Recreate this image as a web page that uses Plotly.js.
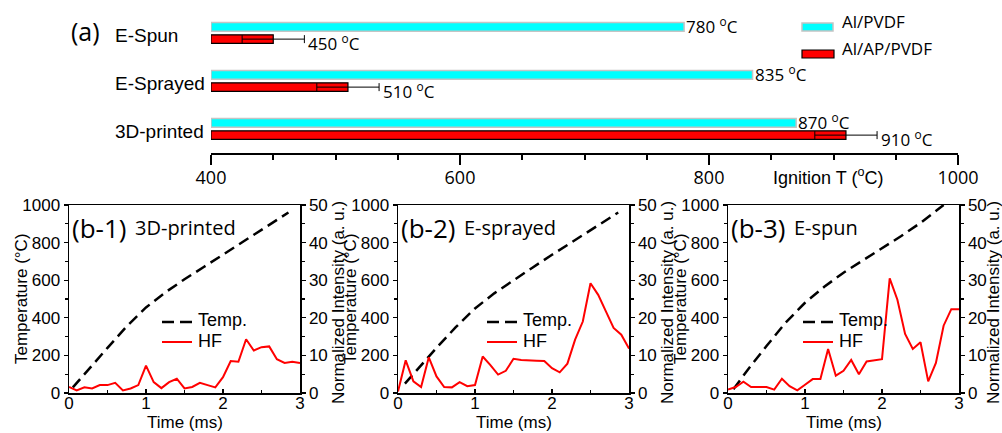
<!DOCTYPE html>
<html><head><meta charset="utf-8">
<script src="https://cdn.plot.ly/plotly-3.0.1.min.js"></script>
<style>html,body{margin:0;padding:0;background:#fff}#chart{width:1002px;height:433px}</style>
</head><body><div id="chart"></div>
<script>
// ---------- DATA ----------
const categories = ['E-Spun', 'E-Sprayed', '3D-printed'];
const alPvdf = [780, 835, 870];
const alApPvdf = [450, 510, 910];
const alApPvdfErr = [25, 25, 25];
const baseT = 400;
const seriesNames = ['Al/PVDF', 'Al/AP/PVDF'];
const ignitionTicks = [400, 600, 800, 1000];

const panelLabels = ['(b-1)', '(b-2)', '(b-3)'];
const panelNames = ['3D-printed', 'E-sprayed', 'E-spun'];
const lineNames = ['Temp.', 'HF'];

const timeMs = [0, 0.1, 0.2, 0.3, 0.4, 0.5, 0.6, 0.7, 0.8, 0.9, 1.0, 1.1, 1.2, 1.3, 1.4, 1.5,
                1.6, 1.7, 1.8, 1.9, 2.0, 2.1, 2.2, 2.3, 2.4, 2.5, 2.6, 2.7, 2.8, 2.9, 3.0];
const hf3D = [1.6, 0.7, 1.5, 1.2, 2.1, 2.1, 2.7, 0.7, 1.2, 2.1, 7.3, 2.9, 1.3, 2.9, 3.8, 1.2,
              1.6, 2.7, 2.1, 1.5, 4.2, 8.5, 8.3, 14.3, 11.3, 12.2, 12.4, 9.0, 8.0, 8.3, 8.0];
const hfSprayed = [0.4, 8.7, 3.1, 1.6, 9.5, 4.4, 1.6, 1.5, 2.9, 1.8, 2.1, 9.7, 7.4, 4.9, 5.9, 9.1,
                   8.8, 8.8, 8.6, 8.5, 6.6, 5.5, 7.8, 14.2, 19.0, 29.2, 26.1, 21.7, 17.3, 15.5, 11.8];
const hfSpun = [0.9, 1.6, 3.0, 1.6, 1.6, 1.6, 0.9, 3.8, 1.8, 0.7, 2.2, 3.7, 3.7, 11.7, 4.6, 5.9,
                8.8, 5.0, 8.4, 8.8, 9.0, 30.5, 24.8, 15.7, 11.7, 13.5, 3.1, 8.0, 17.9, 22.3, 22.3];

const tempTime3D = [0.05, 0.25, 0.5, 0.75, 1.0, 1.25, 1.5, 1.75, 2.0, 2.25, 2.5, 2.85];
const temp3D = [30, 125, 240, 355, 455, 535, 605, 670, 735, 800, 865, 960];
const tempTimeSprayed = [0.09, 0.25, 0.5, 0.75, 1.0, 1.25, 1.5, 1.75, 2.0, 2.25, 2.5, 2.86];
const tempSprayed = [50, 125, 240, 350, 450, 530, 600, 668, 735, 800, 862, 960];
const tempTimeSpun = [0.07, 0.25, 0.5, 0.75, 1.0, 1.25, 1.5, 1.75, 2.0, 2.25, 2.5, 2.8];
const tempSpun = [20, 120, 250, 375, 480, 565, 640, 705, 770, 835, 905, 1000];

const hfSeries = [hf3D, hfSprayed, hfSpun];
const tempTimes = [tempTime3D, tempTimeSprayed, tempTimeSpun];
const tempSeries = [temp3D, tempSprayed, tempSpun];

// ---------- LAYOUT HELPERS ----------
const W = 1002, H = 433;
const P = px => px / W;
const Q = py => 1 - py / H;
const ARIAL = 'Liberation Sans, Arial, sans-serif';
const SEGOE = 'Open Sans, Noto Sans, sans-serif';
const TEMP_DASH = '11px,6px';

const traces = [];
const annotations = [];
const shapes = [];

// ---------- TOP PANEL (a) ----------
traces.push({
  type: 'bar', orientation: 'h', y: categories, x: alPvdf.map(v => v - baseT), base: baseT,
  name: seriesNames[0], xaxis: 'x', yaxis: 'y', showlegend: false,
  marker: {color: '#00ffff', line: {color: '#c4c4c4', width: 1.5}}
});
traces.push({
  type: 'bar', orientation: 'h', y: categories, x: alApPvdf.map(v => v - baseT), base: baseT,
  name: seriesNames[1], xaxis: 'x', yaxis: 'y', showlegend: false,
  marker: {color: '#ff0000', line: {color: '#000', width: 1.2}},
  error_x: {type: 'data', array: alApPvdfErr, visible: true, color: '#000', thickness: 1, width: 4}
});

annotations.push({text: '(a)', xref: 'paper', yref: 'paper', x: P(69), y: Q(31),
  xanchor: 'left', yanchor: 'middle', showarrow: false, font: {family: SEGOE, size: 25, color: '#000'}});

categories.forEach((c, i) => {
  annotations.push({text: c, xref: 'paper', yref: 'y', x: P(113), y: c, yshift: -2,
    xanchor: 'left', yanchor: 'middle', showarrow: false, font: {family: ARIAL, size: 19, color: '#000'}});
  annotations.push({text: alPvdf[i] + ' <sup>o</sup>C', xref: 'x', yref: 'y', x: alPvdf[i], y: c,
    xanchor: 'left', yanchor: 'middle', xshift: 0, yshift: 8, showarrow: false,
    font: {family: SEGOE, size: 17, color: '#000'}});
  annotations.push({text: alApPvdf[i] + ' <sup>o</sup>C', xref: 'x', yref: 'y', x: alApPvdf[i] + alApPvdfErr[i], y: c,
    xanchor: 'left', yanchor: 'middle', xshift: 2, yshift: -9, showarrow: false,
    font: {family: SEGOE, size: 17, color: '#000'}});
});

annotations.push({text: 'Ignition T (<sup>o</sup>C)', xref: 'paper', yref: 'paper', x: P(828), y: Q(176),
  xanchor: 'center', yanchor: 'middle', showarrow: false, font: {family: ARIAL, size: 18, color: '#000'}});

// legend for panel (a): wide swatches as in the original
shapes.push({type: 'rect', xref: 'paper', yref: 'paper', x0: P(802), x1: P(833), y0: Q(31), y1: Q(23),
  fillcolor: '#00ffff', line: {color: '#c4c4c4', width: 1.5}});
shapes.push({type: 'rect', xref: 'paper', yref: 'paper', x0: P(802), x1: P(834), y0: Q(58), y1: Q(50),
  fillcolor: '#ff0000', line: {color: '#000', width: 1.2}});
annotations.push({text: seriesNames[0], xref: 'paper', yref: 'paper', x: P(840), y: Q(22),
  xanchor: 'left', yanchor: 'middle', showarrow: false, font: {family: SEGOE, size: 17, color: '#000'}});
annotations.push({text: seriesNames[1], xref: 'paper', yref: 'paper', x: P(840), y: Q(49),
  xanchor: 'left', yanchor: 'middle', showarrow: false, font: {family: SEGOE, size: 17, color: '#000'}});

const layout = {
  width: W, height: H, margin: {l: 0, r: 0, t: 0, b: 0},
  paper_bgcolor: '#fff', plot_bgcolor: 'rgba(0,0,0,0)',
  barmode: 'group', bargap: 0.49, bargroupgap: 0.3, showlegend: false,
  xaxis: {domain: [P(211), P(958)], anchor: 'y', range: [400, 1000], tickvals: ignitionTicks,
    showgrid: false, zeroline: false, showline: true, linecolor: '#000', linewidth: 2,
    ticks: 'outside', ticklen: 10, tickwidth: 2, tickcolor: '#000', ticklabelstandoff: -3,
    minor: {dtick: 50, tick0: 400, ticks: 'outside', ticklen: 5, tickwidth: 2, tickcolor: '#000', showgrid: false},
    tickfont: {family: SEGOE, size: 18, color: '#000'}},
  yaxis: {domain: [Q(153), Q(9)], anchor: 'x', type: 'category', categoryorder: 'array',
    categoryarray: categories, range: [2.5, -0.5], showgrid: false, zeroline: false,
    showline: false, showticklabels: false, ticks: ''},
  annotations: annotations, shapes: shapes
};

// ---------- BOTTOM PANELS (b-1..b-3) ----------
const panelLeft = [69, 398, 728];
const panelWidth = 231;
const panelTop = 205, panelBottom = 393;
const keyOffset = [93, 89, 75];

for (let k = 0; k < 3; k++) {
  const xi = k + 2, yl = 2 * k + 2, yr = 2 * k + 3;
  const L = panelLeft[k], R = L + panelWidth;
  layout['xaxis' + xi] = {domain: [P(L), P(R)], anchor: 'y' + yl, range: [0, 3], tick0: 0, dtick: 1,
    showgrid: false, zeroline: false, showline: true, mirror: true, linecolor: '#000', linewidth: 1.5,
    ticks: 'inside', ticklen: 4, tickwidth: 1.2, tickcolor: '#000', ticklabelstandoff: -6,
    minor: {dtick: 0.5, ticks: 'inside', ticklen: 3, tickwidth: 1.2, tickcolor: '#000', showgrid: false},
    tickfont: {family: ARIAL, size: 17, color: '#000'}};
  layout['yaxis' + yl] = {domain: [Q(panelBottom), Q(panelTop)], anchor: 'x' + xi, range: [0, 1000],
    tick0: 0, dtick: 200, showgrid: false, zeroline: false, showline: true, mirror: true,
    linecolor: '#000', linewidth: 1.5, ticks: 'outside', ticklen: 4, tickwidth: 1.2, tickcolor: '#000',
    minor: {dtick: 100, ticks: 'outside', ticklen: 3, tickwidth: 1.2, tickcolor: '#000', showgrid: false},
    tickfont: {family: ARIAL, size: 17, color: '#000'}};
  layout['yaxis' + yr] = {overlaying: 'y' + yl, anchor: 'x' + xi, side: 'right', range: [0, 50],
    tick0: 0, dtick: 10, showgrid: false, zeroline: false, showline: true,
    linecolor: '#000', linewidth: 1.5, ticks: 'outside', ticklen: 4, tickwidth: 1.2, tickcolor: '#000',
    minor: {dtick: 5, ticks: 'outside', ticklen: 3, tickwidth: 1.2, tickcolor: '#000', showgrid: false},
    tickfont: {family: ARIAL, size: 17, color: '#000'}};

  traces.push({type: 'scatter', mode: 'lines', x: tempTimes[k], y: tempSeries[k], name: lineNames[0],
    xaxis: 'x' + xi, yaxis: 'y' + yl, line: {color: '#000', width: 2.5, dash: TEMP_DASH}});
  traces.push({type: 'scatter', mode: 'lines', x: timeMs, y: hfSeries[k], name: lineNames[1],
    xaxis: 'x' + xi, yaxis: 'y' + yr, line: {color: '#ff0000', width: 2}});

  // key (legend) for this panel
  const kx = L + keyOffset[k];
  shapes.push({type: 'line', xref: 'paper', yref: 'paper', x0: P(kx), x1: P(kx + 30), y0: Q(322), y1: Q(322),
    line: {color: '#000', width: 2.5, dash: '12px,6px'}});
  shapes.push({type: 'line', xref: 'paper', yref: 'paper', x0: P(kx), x1: P(kx + 30), y0: Q(342), y1: Q(342),
    line: {color: '#ff0000', width: 2}});
  annotations.push({text: lineNames[0], xref: 'paper', yref: 'paper', x: P(kx + 34), y: Q(320),
    xanchor: 'left', yanchor: 'middle', showarrow: false, font: {family: ARIAL, size: 18, color: '#000'}});
  annotations.push({text: lineNames[1], xref: 'paper', yref: 'paper', x: P(kx + 34), y: Q(341),
    xanchor: 'left', yanchor: 'middle', showarrow: false, font: {family: ARIAL, size: 18, color: '#000'}});

  annotations.push({text: panelLabels[k], xref: 'paper', yref: 'paper', x: P(L + 1), y: Q(228),
    xanchor: 'left', yanchor: 'middle', showarrow: false, font: {family: SEGOE, size: 26, color: '#000'}});
  annotations.push({text: panelNames[k], xref: 'paper', yref: 'paper', x: P(L + 64), y: Q(227),
    xanchor: 'left', yanchor: 'middle', showarrow: false, font: {family: SEGOE, size: 20, color: '#000'}});
  annotations.push({text: 'Temperature (°C)', xref: 'paper', yref: 'paper', x: P(L - 48), y: Q(299),
    xanchor: 'center', yanchor: 'middle', textangle: -90, showarrow: false,
    font: {family: ARIAL, size: 17, color: '#000'}});
  annotations.push({text: 'Normalized Intensity (a. u.)', xref: 'paper', yref: 'paper',
    x: P(Math.min(R + 38, 993)), y: Q(303),
    xanchor: 'center', yanchor: 'middle', textangle: -90, showarrow: false,
    font: {family: ARIAL, size: 17, color: '#000'}});
  annotations.push({text: 'Time (ms)', xref: 'paper', yref: 'paper', x: P((L + R) / 2), y: 0,
    xanchor: 'center', yanchor: 'bottom', borderpad: 0, showarrow: false,
    font: {family: ARIAL, size: 17, color: '#000'}});
}

Plotly.newPlot('chart', traces, layout, {staticPlot: true, displayModeBar: false});
</script>
</body></html>
